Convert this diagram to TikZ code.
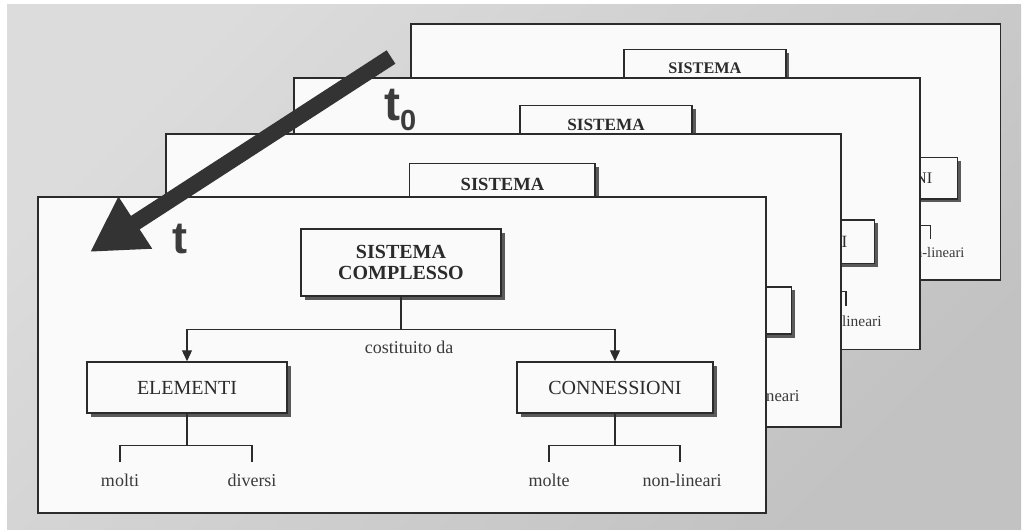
\documentclass[tikz,border=0pt]{standalone}
\usepackage{fontspec}
\setmainfont{Liberation Serif}
\newfontfamily\labelfont{Liberation Sans}
\usetikzlibrary{arrows.meta,shadows}

\definecolor{bgtop}{HTML}{DCDCDC}
\definecolor{bgbot}{HTML}{C2C2C2}
\definecolor{sheet}{HTML}{FAFAFA}
\definecolor{ink}{HTML}{2B2B2B}
\definecolor{shadowink}{HTML}{5A5A5A}
\definecolor{arrowink}{HTML}{333333}
\definecolor{leafink}{HTML}{3A3A3A}
\definecolor{tink}{HTML}{3C3C3C}

\tikzset{
  sheetframe/.style={draw=ink, line width=1.8pt, fill=sheet, inner sep=0pt,
    minimum width=728pt, minimum height=316pt, anchor=north west},
  conceptbox/.style={draw=ink, line width=1.5pt, fill=sheet, inner sep=0pt,
    align=center, text=ink,
    general shadow={shadow xshift=3.5pt, shadow yshift=-3.5pt, fill=shadowink}},
  headbox/.style={conceptbox, font=\bfseries\fontsize{20}{21}\selectfont,
    minimum width=200pt, minimum height=67pt},
  partbox/.style={conceptbox, font=\fontsize{20}{21}\selectfont, minimum height=51pt},
  leaf/.style={font=\fontsize{18}{18}\selectfont, text=leafink, inner sep=0pt, anchor=base},
  link/.style={draw=ink, line width=1.3pt},
  linkarrow/.style={link, -{Triangle[length=11pt,width=10pt]}},
  timelabel/.style={font=\labelfont\bfseries, text=tink, inner sep=0pt},
}

% One concept sheet: origin of its top-left corner, scale, name prefix
\newcommand\conceptsheet[3]{%
  \begin{scope}[shift={#1}, scale=#2, transform shape, name prefix=#3-]
    \node[sheetframe] (frame) at (0,0) {};
    \node[headbox] (head) at (364,-66.5) {SISTEMA\\COMPLESSO};
    \node[partbox, minimum width=200pt] (elem) at (150,-191.5) {ELEMENTI};
    \node[partbox, minimum width=196pt] (conn) at (578,-191.5) {CONNESSIONI};
    \draw[link] (head.south) -- ++(0,-33) coordinate (split);
    \draw[linkarrow] (split) -| (elem.north);
    \draw[linkarrow] (split) -| (conn.north);
    \node[leaf] (via) at (372,-157) {costituito da};
    % qualifiers of the elements
    \draw[link] (elem.south) -- ++(0,-32) coordinate (elemsplit);
    \node[leaf] (molti) at (83,-290) {molti};
    \node[leaf] (diversi) at (215,-290) {diversi};
    \draw[link] ([yshift=11pt]molti.north) |- (elemsplit) -| ([yshift=11pt]diversi.north);
    % qualifiers of the connections
    \draw[link] (conn.south) -- ++(0,-32) coordinate (connsplit);
    \node[leaf] (molte) at (512,-290) {molte};
    \node[leaf] (nonlin) at (645,-290) {non-lineari};
    \draw[link] ([yshift=11pt]molte.north) |- (connsplit) -| ([xshift=-2pt,yshift=11pt]nonlin.north);
  \end{scope}}

\begin{document}
\begin{tikzpicture}[x=1pt, y=1pt]
  \useasboundingbox (0,0) rectangle (1031,-530);
  \fill[white] (0,0) rectangle (1031,-530);
  \shade[top color=bgtop, bottom color=bgbot, shading angle=45] (7,-4) rectangle (1021,-530);

  % stack of sheets, oldest at the back
  \conceptsheet{(410,-23)}{0.81}{s4}
  \conceptsheet{(293,-77)}{0.86}{s3}
  \node[timelabel, font=\labelfont\bfseries\fontsize{48}{48}\selectfont, anchor=base west]
    (tzero) at (384,-120) {t\raisebox{-10pt}{\fontsize{29}{29}\selectfont 0}};
  \conceptsheet{(165,-133)}{0.927}{s2}
  \conceptsheet{(37,-196)}{1}{s1}
  \node[timelabel, font=\labelfont\bfseries\fontsize{45}{45}\selectfont, anchor=base]
    (tnow) at (180,-253) {t};

  % time arrow
  \coordinate (arrtail) at (391,-57);
  \coordinate (arrtip) at (90,-252);
  \draw[draw=arrowink, line width=16pt, -{Triangle[length=54pt,width=58pt]}] (arrtail) -- (arrtip);
\end{tikzpicture}
\end{document}
